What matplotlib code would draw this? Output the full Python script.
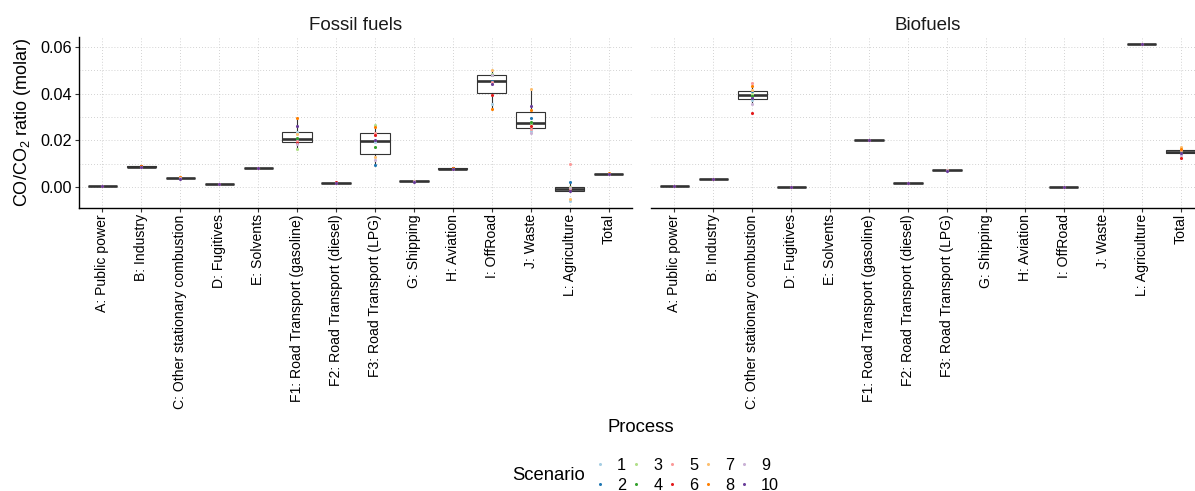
import numpy as np
import matplotlib
matplotlib.use("Agg")
import matplotlib.pyplot as plt
from matplotlib.lines import Line2D

plt.rcParams['font.family'] = ['Liberation Sans', 'DejaVu Sans']
plt.rcParams['mathtext.default'] = 'regular'

processes = ["A: Public power", "B: Industry", "C: Other stationary combustion", "D: Fugitives",
             "E: Solvents", "F1: Road Transport (gasoline)", "F2: Road Transport (diesel)",
             "F3: Road Transport (LPG)", "G: Shipping", "H: Aviation", "I: OffRoad", "J: Waste",
             "L: Agriculture", "Total"]
scenarios = ["1", "2", "3", "4", "5", "6", "7", "8", "9", "10"]
scenario_colors = ["#A6CEE3", "#1F78B4", "#B2DF8A", "#33A02C", "#FB9A99",
                   "#E31A1C", "#FDBF6F", "#FF7F00", "#CAB2D6", "#6A3D9A"]

# CO/CO2 ratio per process, one value per scenario (1..10)
fossil = {
    "A: Public power": [0.0006, 0.0006, 0.0006, 0.0005, 0.0006, 0.0006, 0.0006, 0.0005, 0.0006, 0.0005],
    "B: Industry": [0.0087, 0.0088, 0.0087, 0.0088, 0.0087, 0.0088, 0.0087, 0.0088, 0.0087, 0.0087],
    "C: Other stationary combustion": [0.0040, 0.0038, 0.0040, 0.0039, 0.0041, 0.0039, 0.0041, 0.0043, 0.0038, 0.0035],
    "D: Fugitives": [0.0015, 0.0014, 0.0015, 0.0014, 0.0015, 0.0014, 0.0015, 0.0014, 0.0015, 0.0013],
    "E: Solvents": [0.0081, 0.0082, 0.0081, 0.0082, 0.0081, 0.0082, 0.0081, 0.0082, 0.0081, 0.0080],
    "F1: Road Transport (gasoline)": [0.0237, 0.0205, 0.0162, 0.0210, 0.0198, 0.0190, 0.0226, 0.0294, 0.0185, 0.0261],
    "F2: Road Transport (diesel)": [0.0018, 0.0017, 0.0018, 0.0017, 0.0018, 0.0020, 0.0018, 0.0017, 0.0018, 0.0016],
    "F3: Road Transport (LPG)": [0.0195, 0.0093, 0.0264, 0.0171, 0.0232, 0.0223, 0.0129, 0.0256, 0.0117, 0.0200],
    "G: Shipping": [0.0026, 0.0025, 0.0026, 0.0025, 0.0026, 0.0025, 0.0026, 0.0025, 0.0026, 0.0023],
    "H: Aviation": [0.0079, 0.0080, 0.0079, 0.0080, 0.0079, 0.0080, 0.0079, 0.0080, 0.0079, 0.0076],
    "I: OffRoad": [0.0354, 0.0455, 0.0485, 0.0482, 0.0452, 0.0393, 0.0500, 0.0333, 0.0478, 0.0440],
    "J: Waste": [0.0239, 0.0296, 0.0274, 0.0279, 0.0250, 0.0260, 0.0419, 0.0329, 0.0231, 0.0349],
    "L: Agriculture": [-0.0058, 0.0020, 0.0000, -0.0012, 0.0097, -0.0008, -0.0050, -0.0004, -0.0006, -0.0018],
    "Total": [0.0055, 0.0056, 0.0055, 0.0056, 0.0056, 0.0055, 0.0057, 0.0058, 0.0055, 0.0054],
}
bio = {
    "A: Public power": [0.0006, 0.0006, 0.0006, 0.0006, 0.0006, 0.0006, 0.0006, 0.0006, 0.0006, 0.0006],
    "B: Industry": [0.0036, 0.0036, 0.0036, 0.0036, 0.0036, 0.0036, 0.0036, 0.0036, 0.0036, 0.0035],
    "C: Other stationary combustion": [0.0374, 0.0412, 0.0398, 0.0392, 0.0447, 0.0318, 0.0414, 0.0433, 0.0355, 0.0382],
    "D: Fugitives": [0.0001, 0.0001, 0.0001, 0.0001, 0.0001, 0.0001, 0.0001, 0.0001, 0.0001, 0.0000],
    "E: Solvents": None,
    "F1: Road Transport (gasoline)": [0.0203, 0.0203, 0.0203, 0.0203, 0.0203, 0.0203, 0.0203, 0.0203, 0.0203, 0.0202],
    "F2: Road Transport (diesel)": [0.0018, 0.0018, 0.0018, 0.0018, 0.0018, 0.0018, 0.0018, 0.0018, 0.0018, 0.0018],
    "F3: Road Transport (LPG)": [0.0071, 0.0071, 0.0071, 0.0071, 0.0071, 0.0071, 0.0071, 0.0071, 0.0071, 0.0070],
    "G: Shipping": None,
    "H: Aviation": None,
    "I: OffRoad": [0.0001, 0.0001, 0.0001, 0.0001, 0.0001, 0.0001, 0.0001, 0.0001, 0.0001, 0.0000],
    "J: Waste": None,
    "L: Agriculture": [0.0612, 0.0612, 0.0612, 0.0612, 0.0612, 0.0612, 0.0612, 0.0612, 0.0612, 0.0611],
    "Total": [0.0143, 0.0152, 0.0155, 0.0148, 0.0160, 0.0124, 0.0170, 0.0163, 0.0138, 0.0146],
}

W, H = 1195, 491
fig = plt.figure(figsize=(W / 100, H / 100), dpi=100)

grid_kw = dict(color="#c4c4c4", linewidth=0.6, linestyle=(0, (1, 2.5)), zorder=0)


def draw_panel(ax, data, title, show_y):
    pos = np.arange(1, len(processes) + 1)
    ax.set_xlim(0.4, len(processes) + 0.6)
    ax.set_ylim(-0.00887, 0.0643)
    for y in [0.0, 0.02, 0.04, 0.06, 0.01, 0.03, 0.05]:
        ax.axhline(y, **grid_kw)
    for p in pos:
        ax.axvline(p, **grid_kw)

    vals, where = [], []
    for p, name in zip(pos, processes):
        if data[name] is not None:
            vals.append(data[name])
            where.append(p)
    ax.boxplot(vals, positions=where, widths=0.75, whis=1.5, showfliers=False,
               patch_artist=True, manage_ticks=False,
               boxprops=dict(facecolor="white", edgecolor="#333333", linewidth=0.8),
               medianprops=dict(color="#333333", linewidth=1.9, solid_capstyle="butt"),
               whiskerprops=dict(color="#333333", linewidth=0.8),
               capprops=dict(linewidth=0), zorder=2)
    for i, c in enumerate(scenario_colors):
        ax.scatter(where, [v[i] for v in vals], s=5, color=c, linewidths=0, zorder=3)

    ax.set_xticks(pos)
    ax.set_xticklabels(processes, rotation=90, ha="center", va="top", fontsize=10.1)
    ax.set_yticks([0.0, 0.02, 0.04, 0.06])
    ax.set_yticklabels(["0.00", "0.02", "0.04", "0.06"], fontsize=11.7)
    ax.tick_params(axis="both", length=3, width=0.8, color="#333333", pad=1.8)
    for s in ["top", "right"]:
        ax.spines[s].set_visible(False)
    ax.spines["bottom"].set_linewidth(1.0)
    ax.spines["left"].set_linewidth(1.0)
    if not show_y:
        ax.spines["left"].set_visible(False)
        ax.tick_params(axis="y", left=False, labelleft=False)
    ax.set_title(title, fontsize=13.5, pad=5, color="#1a1a1a")


bottom = 1 - 207.7 / H
height = (207.7 - 37) / H
ax1 = fig.add_axes([79 / W, bottom, 553 / W, height])
ax2 = fig.add_axes([651 / W, bottom, 553 / W, height])
draw_panel(ax1, fossil, "Fossil fuels", True)
draw_panel(ax2, bio, "Biofuels", False)

fig.text(23 / W, 1 - 122 / H, "CO/CO$_2$ ratio (molar)", rotation=90,
         ha="center", va="center", fontsize=13)
fig.text(641 / W, 1 - 427 / H, "Process", ha="center", va="center", fontsize=13.3)
fig.text(585 / W, 1 - 475 / H, "Scenario", ha="right", va="center", fontsize=13.3)

handles = [Line2D([], [], linestyle="none", marker="o", markersize=2.2,
                  markerfacecolor=c, markeredgewidth=0) for c in scenario_colors]
fig.legend(handles, scenarios, ncol=5, loc="upper left", frameon=False,
           bbox_to_anchor=(592 / W, 1 - 458 / H), fontsize=11.7,
           handlelength=1.0, handletextpad=0.55, columnspacing=0.1,
           labelspacing=0.28, borderpad=0, borderaxespad=0)

fig.savefig("out.png", dpi=100)
